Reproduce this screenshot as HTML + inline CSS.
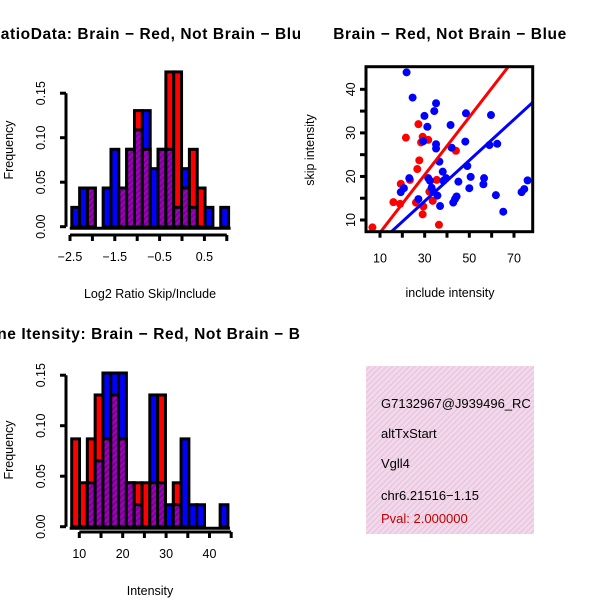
<!DOCTYPE html>
<html><head><meta charset="utf-8"><style>
html,body{margin:0;padding:0;background:#fff;width:600px;height:600px;overflow:hidden}
svg{display:block;font-family:"Liberation Sans",sans-serif}
</style></head><body>
<svg id="c" width="600" height="600" viewBox="0 0 600 600" xmlns="http://www.w3.org/2000/svg">
<defs>
<pattern id="ph" width="4" height="4" patternUnits="userSpaceOnUse" patternTransform="rotate(45)">
<rect width="4" height="4" fill="#a000c0"/><rect width="2" height="4" fill="#7a0090"/></pattern>
<pattern id="pk" width="4" height="4" patternUnits="userSpaceOnUse" patternTransform="rotate(45)">
<rect width="4" height="4" fill="#f6d6ee"/><rect width="1" height="4" fill="#d8c8d0"/></pattern>
<clipPath id="leftclip"><rect x="0" y="0" width="300" height="600"/></clipPath>
</defs>
<g id="h1" clip-path="url(#leftclip)"></g>
<g id="sc"></g>
<g id="h2" clip-path="url(#leftclip)"></g>
<g>
<rect x="366" y="366" width="168" height="168" fill="url(#pk)"/>
<text x="381" y="408" font-size="13">G7132967@J939496_RC</text>
<text x="381" y="438" font-size="13">altTxStart</text>
<text x="381" y="468" font-size="13">Vgll4</text>
<text x="381" y="500" font-size="13">chr6.21516−1.15</text>
<text x="381" y="523" font-size="13" fill="#c00000">Pval: 2.000000</text>
<rect x="534" y="360" width="66" height="180" fill="#fff"/>
</g>
</svg>
<script>
// ---- histogram 1 data (units of 1/46 frequency) ----
const h1Blue=[1,2,2,0,2,4,2,4,5,6,3,4,4,1,3,1,0,1,0,1];
const h1Red =[0,0,2,0,0,0,2,4,6,4,0,4,8,8,2,4,2,0,0,0];
const h1Start=-2.46, h1Width=0.175;
const h1Ticks=[-2.5,-2,-1.5,-1,-0.5,0,0.5,1];
const h1TickLabels=["−2.5","−1.5","−0.5","0.5"];
const h1YTicks=[0,0.05,0.1,0.15];
// ---- histogram 2 data ----
const h2Blue=[0,0,2,3,7,7,7,2,1,0,6,2,1,1,4,1,1,0,0,1];
const h2Red =[4,2,4,6,4,6,4,2,2,2,2,6,0,2,0,0,0,0,0,0];
const h2Start=8.25, h2Width=1.8;
const h2Ticks=[10,15,20,25,30,35,40,45];
const h2TickLabels=["10","20","30","40"];
const h2YTicks=[0,0.05,0.1,0.15];
// ---- scatter data ----
const blueX=[21.9,24.6,35.1,34.3,29.9,31.2,41.6,48.5,59.7,35.1,35.1,29.4,42.1,48.2,59.0,62.5,36.6,49.1,38.1,39.6,45.1,50.6,56.6,56.3,50.0,23.1,19.3,20.7,32.4,33.1,35.7,36.9,27.2,44.3,43.6,42.8,61.9,65.2,73.4,74.6,76.1,31.6,33.9,38.4];
const blueY=[43.9,38.1,36.8,35.0,33.9,31.4,31.8,34.5,34.1,27.4,26.4,28.1,26.6,28.0,27.2,27.5,23.4,22.4,21.1,19.6,18.8,19.9,19.6,18.2,17.3,19.6,16.4,17.3,19.0,17.4,15.6,13.2,14.8,15.4,14.8,14.0,15.7,11.9,16.4,17.1,19.1,19.6,16.5,19.0];
const redX=[6.6,21.6,27.2,29.1,31.6,28.4,27.6,26.7,19.3,23.4,16.0,19.0,26.1,29.4,29.1,33.6,32.1,36.4,44.0,35.4];
const redY=[8.3,28.9,32.0,29.1,28.4,27.8,23.7,21.7,18.3,19.2,14.1,13.7,14.0,13.1,11.3,14.4,16.5,8.9,25.9,19.2];
const fitRed=[0.47,0.663], fitBlue=[0.24,0.469];
const scXTicks=[10,20,30,40,50,60,70], scXLabels=[10,30,50,70];
const scYTicks=[10,15,20,25,30,35,40], scYLabels=[10,20,30,40];

const NS="http://www.w3.org/2000/svg";
function mk(p,t,a){const e=document.createElementNS(NS,t);for(const k in a)e.setAttribute(k,a[k]);p.appendChild(e);return e;}
function txt(p,x,y,s,o){const e=mk(p,'text',Object.assign({x:x,y:y},o||{}));e.textContent=s;return e;}
const TITLE={'font-size':15.5,'font-weight':'bold','letter-spacing':0.6,'text-anchor':'middle'};

function hist(g,blue,red,start,w,xs,ys,ticks,labels,yticks,title,xlab,cfg){
  const unit=1/46;
  blue.forEach((b,i)=>{
    const r=red[i],mx=Math.max(b,r),mn=Math.min(b,r);
    const x0=xs(start+i*w),x1=xs(start+(i+1)*w);
    if(mx>0){const e=mk(g,'rect',{x:x0,y:ys(mx*unit),width:x1-x0,height:ys(0)-ys(mx*unit),fill:b>=r?'#0000ff':'#ff0000',stroke:'#000','stroke-width':3});
      
      }
    if(mn>0){const e=mk(g,'rect',{x:x0,y:ys(mn*unit),width:x1-x0,height:ys(0)-ys(mn*unit),fill:'url(#ph)',stroke:'#000','stroke-width':3});
      
      }
  });
  const by=ys(0)+1.5;
  mk(g,'line',{x1:xs(start)-2,y1:by,x2:xs(start+blue.length*w)+2,y2:by,stroke:'#000','stroke-width':3});
  const ay=cfg.axY;
  mk(g,'line',{x1:xs(ticks[0]),y1:ay,x2:xs(ticks[ticks.length-1]),y2:ay,stroke:'#000','stroke-width':3});
  ticks.forEach(t=>mk(g,'line',{x1:xs(t),y1:ay,x2:xs(t),y2:ay+6,stroke:'#000','stroke-width':3}));
  labels.forEach(l=>{const v=parseFloat(l.replace('−','-'));const e=txt(g,xs(v),ay+26,l,{'font-size':12.5,'text-anchor':'middle'});
    
    });
  mk(g,'line',{x1:cfg.axX,y1:ys(0),x2:cfg.axX,y2:ys(yticks[yticks.length-1]),stroke:'#000','stroke-width':3});
  yticks.forEach(t=>{mk(g,'line',{x1:cfg.axX,y1:ys(t),x2:cfg.axX-6,y2:ys(t),stroke:'#000','stroke-width':3});
    const e=txt(g,0,0,t.toFixed(2),{'font-size':12.5,'text-anchor':'middle',transform:`translate(${cfg.axX-21},${ys(t)}) rotate(-90)`});
    
    });
  const yl=txt(g,0,0,'Frequency',{'font-size':12.5,'text-anchor':'middle',transform:`translate(13,${cfg.yMid}) rotate(-90)`});
  
  
  const xl=txt(g,150,ay+63,xlab,{'font-size':12.5,'text-anchor':'middle'});
  
  
  const ti=txt(g,cfg.tx,cfg.ty,title,TITLE);
  
  
}
// histogram 1
{const g=document.getElementById('h1');
 const xs=v=>70+(v+2.5)*44.8, ys=v=>226.7-v/0.05*44.5;
 hist(g,h1Blue,h1Red,h1Start,h1Width,xs,ys,h1Ticks,h1TickLabels,h1YTicks,'RatioData: Brain − Red, Not Brain − Blue','Log2 Ratio Skip/Include',{axY:235,axX:66,yMid:150,tx:150,ty:39});}
// histogram 2
{const g=document.getElementById('h2');
 const xs=v=>79.3+(v-10)*4.34, ys=v=>526.7-v/0.05*50.5;
 hist(g,h2Blue,h2Red,h2Start,h2Width,xs,ys,h2Ticks,h2TickLabels,h2YTicks,'Gene Itensity: Brain − Red, Not Brain − Blue','Intensity',{axY:532,axX:66,yMid:450,tx:150,ty:339});}
// scatter
{const g=document.getElementById('sc');
 const xs=v=>380+(v-10)*2.233, ys=v=>220-(v-10)*4.356;
 const L=366,R=532.7,T=66.7,B=231.7;
 mk(g,'clipPath',{id:'scclip'}).appendChild(document.createElementNS(NS,'rect'));
 const cr=g.querySelector('#scclip rect');cr.setAttribute('x',L);cr.setAttribute('y',T);cr.setAttribute('width',R-L);cr.setAttribute('height',B-T);
 const pg=mk(g,'g',{'clip-path':'url(#scclip)'});
 redX.forEach((x,i)=>{const e=mk(pg,'circle',{cx:xs(x),cy:ys(redY[i]),r:4,fill:'#ff0000'});
   
   });
 blueX.forEach((x,i)=>{const e=mk(pg,'circle',{cx:xs(x),cy:ys(blueY[i]),r:4,fill:'#0000ff'});
   
   });
 [[fitRed,'#ff0000','fit-line-brain'],[fitBlue,'#0000ff','fit-line-not-brain']].forEach(([f,c,n])=>{
   const e=mk(pg,'line',{x1:xs(0),y1:ys(f[0]),x2:xs(90),y2:ys(f[0]+f[1]*90),stroke:c,'stroke-width':3});
   
   });
 mk(g,'rect',{x:L,y:T,width:R-L,height:B-T,fill:'none',stroke:'#000','stroke-width':3});
 scXTicks.forEach(t=>mk(g,'line',{x1:xs(t),y1:B,x2:xs(t),y2:B+6,stroke:'#000','stroke-width':3}));
 scXLabels.forEach(t=>{const e=txt(g,xs(t),B+31,String(t),{'font-size':12.5,'text-anchor':'middle'});
   
   });
 scYTicks.forEach(t=>mk(g,'line',{x1:L,y1:ys(t),x2:L-6,y2:ys(t),stroke:'#000','stroke-width':3}));
 scYLabels.forEach(t=>{const e=txt(g,0,0,String(t),{'font-size':12.5,'text-anchor':'middle',transform:`translate(${L-11},${ys(t)}) rotate(-90)`});
   
   });
 const xl=txt(g,450,297,'include intensity',{'font-size':12.5,'text-anchor':'middle'});
 
 
 const yl=txt(g,0,0,'skip intensity',{'font-size':12.5,'text-anchor':'middle',transform:`translate(314,150) rotate(-90)`});
 
 
 const ti=txt(g,450,39,'Brain − Red, Not Brain − Blue',TITLE);
 
 }
</script>
</body></html>
